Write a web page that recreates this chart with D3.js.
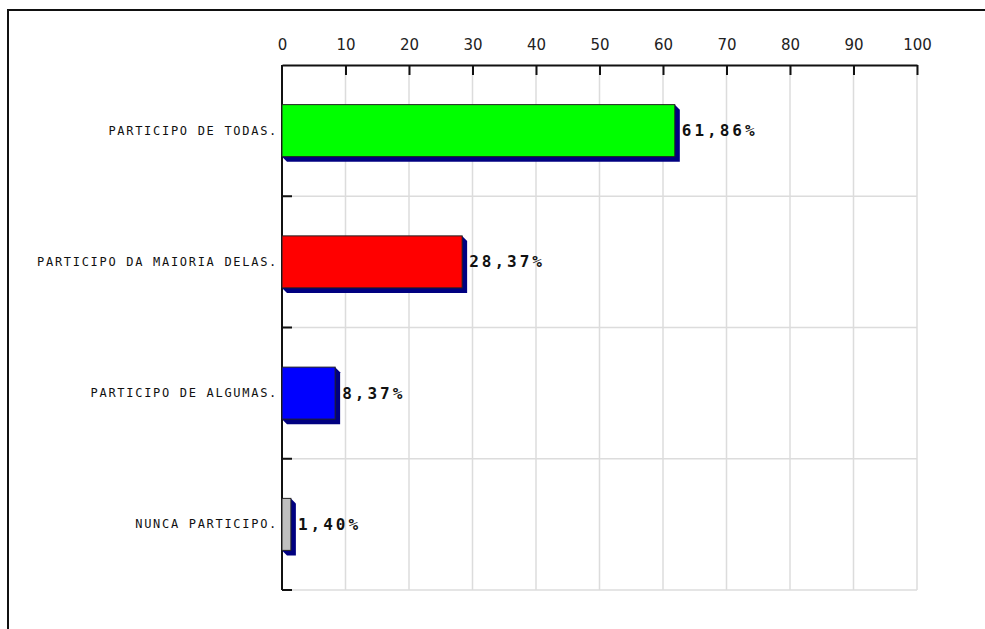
<!DOCTYPE html>
<html><head><meta charset="utf-8">
<script src="https://cdn.jsdelivr.net/npm/d3@7"></script>
<style>body{margin:0;background:#fff}</style>
</head><body>
<svg id="c" width="985" height="629"></svg>
<script>
const categories = ["PARTICIPO DE TODAS.","PARTICIPO DA MAIORIA DELAS.","PARTICIPO DE ALGUMAS.","NUNCA PARTICIPO."];
const values = [61.86, 28.37, 8.37, 1.40];
const valueLabels = ["61,86%","28,37%","8,37%","1,40%"];
const colors = ["#00ff00","#ff0000","#0000ff","#c0c0c0"];
const ticks = [0,10,20,30,40,50,60,70,80,90,100];

const svg = d3.select("#c");
// outer frame
svg.append("rect").attr("x",8).attr("y",10).attr("width",990).attr("height",640)
  .attr("fill","#fff").attr("stroke","#111").attr("stroke-width",2);

const x = d3.scaleLinear().domain([0,100]).range([282,917]);
const y = d3.scaleBand().domain(categories).range([65,590]).paddingInner(0).paddingOuter(0);
const barH = 52;

// grid vertical
svg.append("g").selectAll("line").data(ticks.slice(1)).join("line")
  .attr("x1",d=>x(d)).attr("x2",d=>x(d)).attr("y1",65).attr("y2",590)
  .attr("stroke","#dcdcdc").attr("stroke-width",1.5);
// grid horizontal
svg.append("g").selectAll("line").data(categories).join("line")
  .attr("x1",x(0)).attr("x2",x(100))
  .attr("y1",d=>y(d)+y.bandwidth()).attr("y2",d=>y(d)+y.bandwidth())
  .attr("stroke","#dcdcdc").attr("stroke-width",1.5);

// top axis
const xAxis = d3.axisTop(x).tickValues(ticks).tickSize(-10).tickPadding(15).tickSizeOuter(0);
const gx = svg.append("g").attr("transform","translate(0,65)").call(xAxis);
gx.select(".domain").attr("stroke","#111").attr("stroke-width",2);
gx.selectAll(".tick line").attr("stroke","#111").attr("stroke-width",2);
gx.selectAll(".tick text").attr("font-family","DejaVu Sans").attr("font-size",15)
  .attr("fill","#222").attr("dy","0");
gx.selectAll(".tick").filter(d=>d===0).select("line").remove();

// left axis
const ticksY = categories.map(c=>y(c)+y.bandwidth());
const gy = svg.append("g");
gy.append("line").attr("x1",x(0)).attr("x2",x(0)).attr("y1",65).attr("y2",590)
  .attr("stroke","#111").attr("stroke-width",2);
gy.selectAll("line.t").data(ticksY).join("line").attr("class","t")
  .attr("x1",x(0)).attr("x2",x(0)+10).attr("y1",d=>d).attr("y2",d=>d)
  .attr("stroke","#111").attr("stroke-width",2);

// category labels
svg.append("g").selectAll("text").data(categories).join("text")
  .attr("x",x(0)-4).attr("y",d=>y(d)+y.bandwidth()/2)
  .attr("text-anchor","end").attr("dominant-baseline","central")
  .attr("font-family","DejaVu Sans Mono").attr("font-size",12)
  .attr("letter-spacing","1.7px").attr("fill","#111").text(d=>d);

const off = 5;
const bars = svg.append("g").selectAll("g").data(values).join("g");
bars.append("path").attr("fill","#000080").attr("d",(d,i)=>{
  const x0=x(0), x1=x(d), y0=y(categories[i])+(y.bandwidth()-barH)/2, y1=y0+barH;
  return `M${x1},${y0}L${x1+off},${y0+off}L${x1+off},${y1+off}L${x0+off},${y1+off}L${x0},${y1}Z`;
});
bars.append("rect").attr("x",x(0)).attr("width",d=>x(d)-x(0))
  .attr("y",(d,i)=>y(categories[i])+(y.bandwidth()-barH)/2).attr("height",barH)
  .attr("fill",(d,i)=>colors[i]).attr("stroke","#222").attr("stroke-width",1);
bars.append("text").attr("x",d=>x(d)+off+2)
  .attr("y",(d,i)=>y(categories[i])+y.bandwidth()/2)
  .attr("dominant-baseline","central")
  .attr("font-family","DejaVu Sans Mono").attr("font-weight","bold").attr("font-size",16)
  .attr("letter-spacing","3px").attr("fill","#111").text((d,i)=>valueLabels[i]);
</script>
</body></html>
